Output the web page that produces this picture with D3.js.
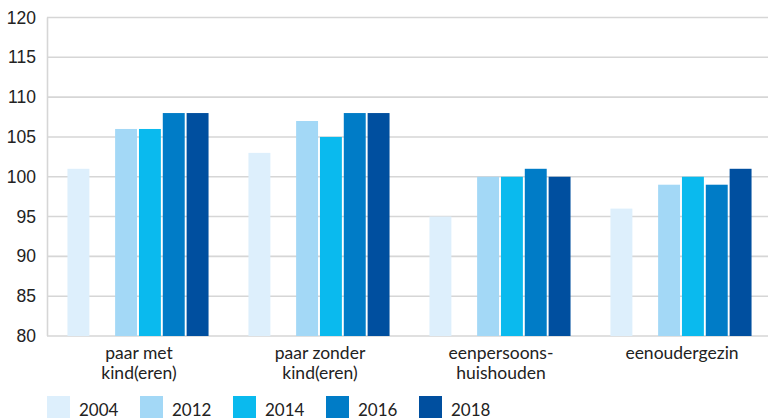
<!DOCTYPE html>
<html>
<head>
	<script src="https://cdnjs.cloudflare.com/ajax/libs/d3/7.8.5/d3.min.js"></script>
	<style>
		html, body {
			padding: 0;
			margin: 0;
			background: #fff;
		}
	</style>
</head>
<body>
	<script>
		var width = 768, height = 418;

		/* data */
		var categories = [["paar met", "kind(eren)"], ["paar zonder", "kind(eren)"], ["eenpersoons-", "huishouden"], ["eenoudergezin"]];
		var years = ["2004", "2012", "2014", "2016", "2018"];
		var slots = ["2004", "gap", "2012", "2014", "2016", "2018"]; // empty slot after 2004
		var colors = ["#ddeffc", "#a3d8f6", "#0abaee", "#007cc7", "#004f9f"];
		var values = [
			[101, 106, 106, 108, 108],
			[103, 107, 105, 108, 108],
			[95, 100, 100, 101, 100],
			[96, 99, 100, 99, 101]
		];
		var yTicks = [80, 85, 90, 95, 100, 105, 110, 115, 120];

		var svg = d3.select('body').append('svg')
			.attr('width', width)
			.attr('height', height);

		var x0 = d3.scaleBand()
			.domain(d3.range(categories.length))
			.range([47.5, 771.5]);

		var x1 = d3.scaleBand()
			.domain(slots)
			.range([19, 162])
			.paddingInner(0.08)
			.paddingOuter(0.04);

		var y = d3.scaleLinear()
			.domain([80, 120])
			.range([336, 17.5]);

		/* gridlines */
		svg.append('g')
			.selectAll('line')
			.data(yTicks)
			.join('line')
			.attr('x1', 47)
			.attr('x2', width)
			.attr('y1', d => y(d))
			.attr('y2', d => y(d))
			.attr('stroke', '#d6d6d6')
			.attr('stroke-width', 1.6);

		svg.append('line')
			.attr('x1', 47.5).attr('x2', 47.5)
			.attr('y1', y(120)).attr('y2', y(80))
			.attr('stroke', '#d6d6d6')
			.attr('stroke-width', 1.6);

		/* y tick labels */
		svg.append('g')
			.selectAll('text')
			.data(yTicks)
			.join('text')
			.attr('x', 36)
			.attr('y', d => y(d) + 6)
			.attr('text-anchor', 'end')
			.attr('font-family', 'Liberation Sans, Arial, sans-serif')
			.attr('font-size', 17.5)
			.attr('fill', '#222')
			.text(d => d);

		/* bars */
		var groups = svg.append('g')
			.selectAll('g')
			.data(values)
			.join('g')
			.attr('transform', (d, i) => 'translate(' + x0(i) + ',0)');

		groups.selectAll('rect')
			.data(d => d.map((v, k) => ({ year: years[k], value: v, color: colors[k] })))
			.join('rect')
			.attr('x', d => x1(d.year))
			.attr('width', x1.bandwidth())
			.attr('y', d => y(d.value))
			.attr('height', d => y(80) - y(d.value))
			.attr('fill', d => d.color);

		/* category labels */
		var labels = svg.append('g')
			.selectAll('text')
			.data(categories)
			.join('text')
			.attr('x', (d, i) => x0(i) + x0.bandwidth() / 2 + 1)
			.attr('y', 359)
			.attr('text-anchor', 'middle')
			.attr('font-family', 'Lato, sans-serif')
			.attr('font-size', 17.5)
			.attr('fill', '#222');

		labels.selectAll('tspan')
			.data(d => d)
			.join('tspan')
			.attr('x', function() { return this.parentNode.getAttribute('x'); })
			.attr('dy', (d, k) => k === 0 ? 0 : 20)
			.text(d => d);

		/* legend */
		var legend = svg.append('g')
			.selectAll('g')
			.data(years)
			.join('g')
			.attr('transform', (d, i) => 'translate(' + (47 + i * 93) + ',396)');

		legend.append('rect')
			.attr('width', 23)
			.attr('height', 23)
			.attr('fill', (d, i) => colors[i]);

		legend.append('text')
			.attr('x', 32)
			.attr('y', 20)
			.attr('font-family', 'Lato, sans-serif')
			.attr('font-size', 17)
			.attr('fill', '#222')
			.text(d => d);
	</script>
</body>
</html>
